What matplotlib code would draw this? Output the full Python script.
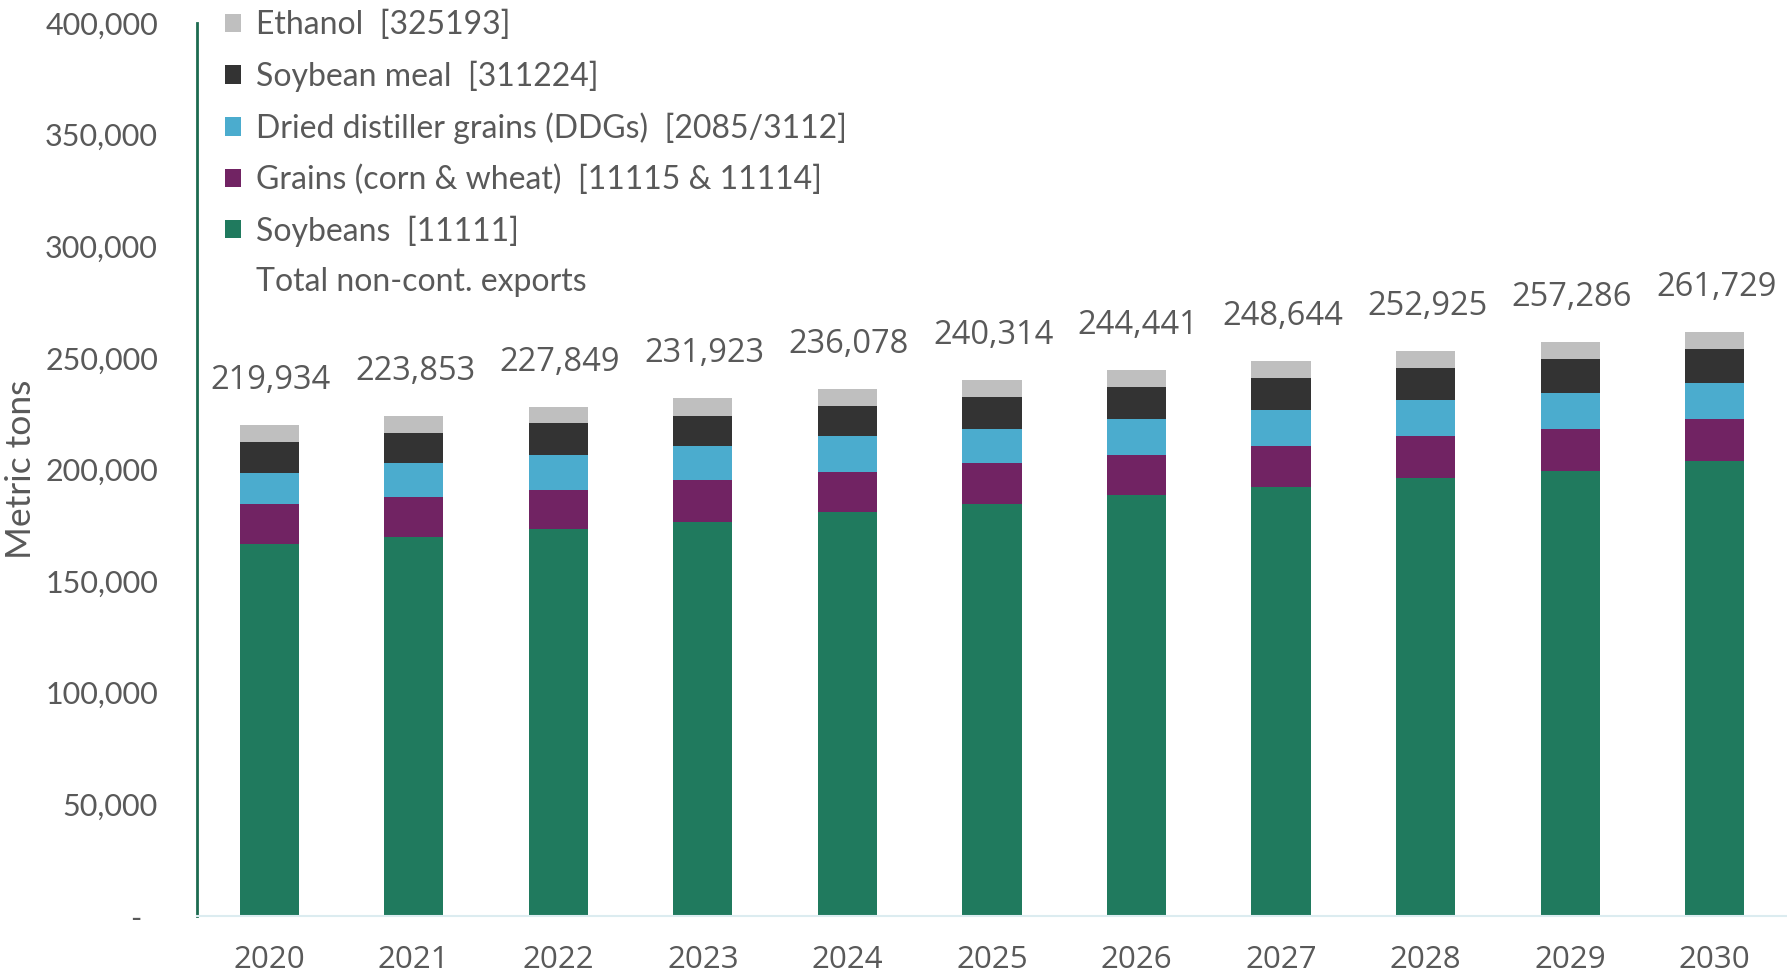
import matplotlib.pyplot as plt
from matplotlib.patches import Patch
from matplotlib.lines import Line2D
import numpy as np

years = ['2020', '2021', '2022', '2023', '2024', '2025', '2026', '2027', '2028', '2029', '2030']
soybeans = [166600, 169800, 173300, 176500, 181000, 184500, 188600, 192100, 196200, 199300, 203800]
grains = [17900, 17900, 17500, 18800, 17900, 18400, 17900, 18400, 18800, 18800, 18800]
ddgs = [13900, 15200, 15700, 15200, 16100, 15200, 16100, 16100, 16100, 16200, 16100]
soy_meal = [13900, 13400, 14300, 13500, 13400, 14400, 14300, 14400, 14300, 15200, 15300]
ethanol = [7634, 7553, 7049, 7923, 7678, 7814, 7541, 7644, 7525, 7786, 7729]
totals = [219934, 223853, 227849, 231923, 236078, 240314, 244441, 248644, 252925, 257286, 261729]

series = [
    ('Soybeans  [11111]', soybeans, '#207a5e'),
    ('Grains (corn & wheat)  [11115 & 11114]', grains, '#712363'),
    ('Dried distiller grains (DDGs)  [2085/3112]', ddgs, '#4bacce'),
    ('Soybean meal  [311224]', soy_meal, '#333333'),
    ('Ethanol  [325193]', ethanol, '#bfbfbf'),
]

text_gray = '#595959'
tick_font = 'Lato'
num_font = 'Open Sans'

fig = plt.figure(figsize=(17.87, 9.8), dpi=100)
ax = fig.add_axes([0.1102, 0.0653, 0.8898, 0.9112])

x = np.arange(len(years))
bottom = np.zeros(len(years))
for name, vals, col in series:
    ax.bar(x, vals, width=0.41, bottom=bottom, color=col, zorder=2)
    bottom += np.array(vals)

# total labels above each bar
for xi, tot in zip(x, totals):
    ax.annotate(f'{tot:,}', (xi, tot), xytext=(1, 32), textcoords='offset points',
                ha='center', va='center', fontsize=23.5, color=text_gray, family=num_font)

ax.set_xlim(-0.5, len(years) - 0.5)
ax.set_ylim(0, 400000)
ax.set_yticks(np.arange(0, 400001, 50000))
ax.set_yticklabels(['-  '] + [f'{v:,}' for v in range(50000, 400001, 50000)])
ax.set_xticks(x)
ax.set_xticklabels(years)

for lab in ax.get_yticklabels():
    lab.set_family(tick_font)
    lab.set_fontsize(22)
    lab.set_color(text_gray)
for lab in ax.get_xticklabels():
    lab.set_family(num_font)
    lab.set_fontsize(22.5)
    lab.set_color(text_gray)

ax.tick_params(axis='y', length=0, pad=28)
ax.tick_params(axis='x', length=0, pad=21)

ax.set_ylabel('Metric tons', fontsize=25.5, color=text_gray, family=tick_font, labelpad=6)

for s in ['top', 'right']:
    ax.spines[s].set_visible(False)
ax.spines['left'].set_color('#1d6b50')
ax.spines['left'].set_linewidth(2)
ax.spines['bottom'].set_color('#dcecf0')
ax.spines['bottom'].set_linewidth(1.5)

handles = [Patch(facecolor=col) for _, _, col in series[::-1]]
labels = [name for name, _, _ in series[::-1]]
handles.append(Line2D([], [], linestyle='none'))
labels.append('Total non-cont. exports')
leg = ax.legend(handles, labels, loc='upper left', bbox_to_anchor=(0.119, 1.003),
                bbox_transform=fig.transFigure, frameon=False, fontsize=23,
                handlelength=0.5, handleheight=0.5, handletextpad=0.45,
                labelspacing=0.64, borderaxespad=0)
for t in leg.get_texts():
    t.set_color(text_gray)
    t.set_family(tick_font)

plt.savefig('out.png', dpi=100)
plt.close()
